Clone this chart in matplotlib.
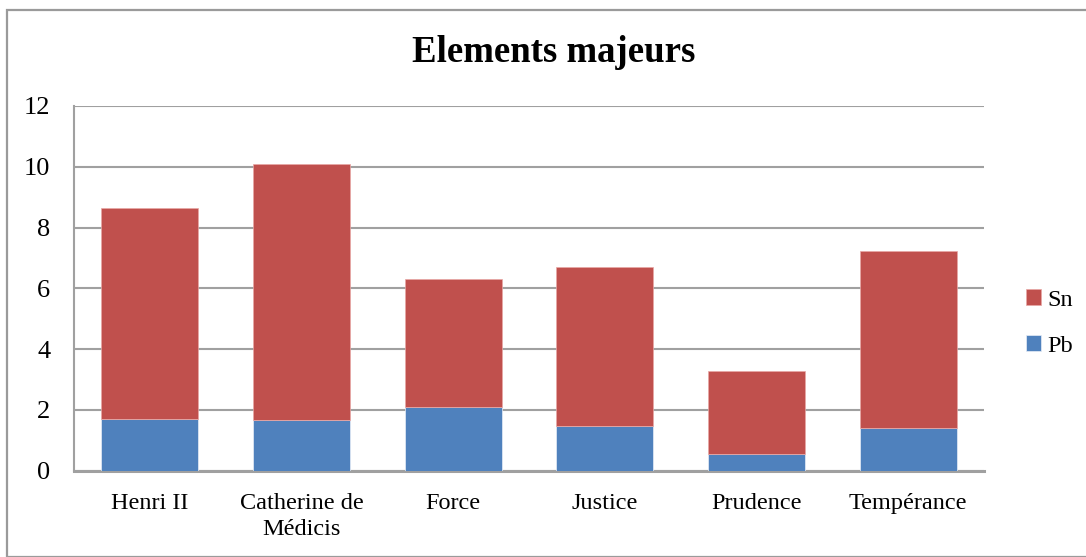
import matplotlib
matplotlib.use("Agg")
import matplotlib.pyplot as plt
from matplotlib.patches import Rectangle
import numpy as np

categories = ["Henri II", "Catherine de\nMédicis", "Force", "Justice", "Prudence", "Tempérance"]
pb = [1.69, 1.65, 2.09, 1.47, 0.54, 1.40]
sn = [6.95, 8.44, 4.22, 5.23, 2.74, 5.82]
yticks = [0, 2, 4, 6, 8, 10, 12]

plt.rcParams["font.family"] = ["Liberation Serif", "DejaVu Serif"]

W, H = 1086, 557
fig = plt.figure(figsize=(W / 100, H / 100), dpi=100)

# outer chart frame
fig.patches.append(Rectangle((7 / W, 0), 1.2, (H - 10) / H, transform=fig.transFigure,
                             fill=False, edgecolor="#9a9a9a", linewidth=1.6))

ax = fig.add_axes([74 / W, 1 - 470.5 / H, (984 - 74) / W, (470.5 - 106) / H])

x = np.arange(len(categories))
blue = "#4f81bd"
red = "#c0504d"
ax.bar(x, pb, width=0.64, color=blue, edgecolor="#e8eef7", linewidth=0.5, label="Pb", zorder=3)
ax.bar(x, sn, width=0.64, bottom=pb, color=red, edgecolor="#e8a8a6", linewidth=0.5, label="Sn", zorder=3)

ax.set_xlim(-0.5, len(categories) - 0.5)
ax.set_ylim(0, 12)
ax.set_yticks(yticks)
ax.set_yticklabels([str(t) for t in yticks], fontsize=19)
ax.set_xticks(x)
ax.set_xticklabels(categories, fontsize=17.5, linespacing=1.3)
ax.tick_params(axis="both", length=0)
ax.tick_params(axis="y", pad=17)
ax.tick_params(axis="x", pad=16)
ax.grid(axis="y", color="#a0a0a0", linewidth=1.5, zorder=0)

for s in ["top", "right"]:
    ax.spines[s].set_visible(False)
ax.spines["left"].set_color("#a0a0a0")
ax.spines["left"].set_linewidth(1.5)
ax.spines["bottom"].set_color("#a0a0a0")
ax.spines["bottom"].set_linewidth(2.2)

fig.text(554 / W, 1 - 53 / H, "Elements majeurs", ha="center", va="center",
         fontsize=26.5, fontweight="bold")

handles, labels = ax.get_legend_handles_labels()
leg = fig.legend(handles[::-1], labels[::-1], loc="center left",
                 bbox_to_anchor=(1026 / W, 1 - 323 / H), frameon=False,
                 fontsize=17.5, handlelength=0.62, handleheight=0.62,
                 handletextpad=0.25, labelspacing=1.0, borderpad=0, borderaxespad=0)

fig.savefig("out.png", dpi=100)
